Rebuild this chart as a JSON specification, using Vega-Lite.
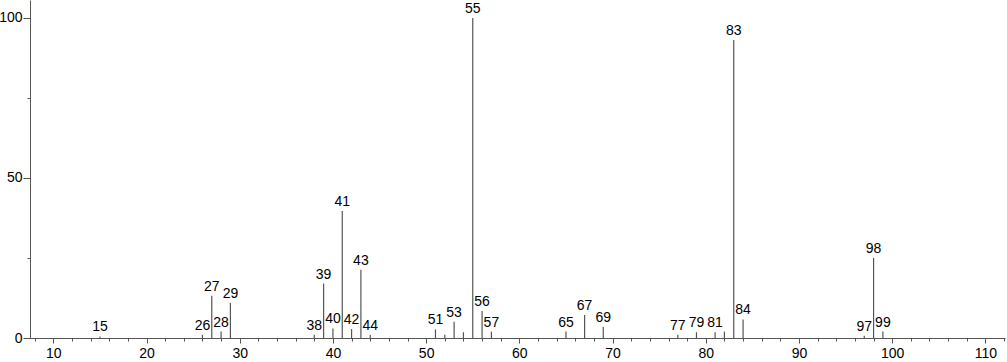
{
  "$schema": "https://vega.github.io/schema/vega-lite/v6.json",
  "width": 975,
  "height": 338,
  "autosize": "none",
  "padding": {"left": 30, "top": 0, "right": 2, "bottom": 24},
  "config": {"view": {"stroke": null}, "font": "Liberation Sans"},
  "data": {
    "values": [
      {"mz": 15, "i": 0.5, "lab": true},
      {"mz": 26, "i": 1.0, "lab": true},
      {"mz": 27, "i": 13.2, "lab": true},
      {"mz": 28, "i": 2.0, "lab": true},
      {"mz": 29, "i": 11.0, "lab": true},
      {"mz": 38, "i": 1.0, "lab": true},
      {"mz": 39, "i": 17.0, "lab": true},
      {"mz": 40, "i": 3.0, "lab": true},
      {"mz": 41, "i": 39.7, "lab": true},
      {"mz": 42, "i": 2.8, "lab": true},
      {"mz": 43, "i": 21.3, "lab": true},
      {"mz": 44, "i": 1.0, "lab": true},
      {"mz": 51, "i": 2.7, "lab": true},
      {"mz": 52, "i": 1.0, "lab": false},
      {"mz": 53, "i": 5.1, "lab": true},
      {"mz": 54, "i": 1.8, "lab": false},
      {"mz": 55, "i": 100, "lab": true},
      {"mz": 56, "i": 8.4, "lab": true},
      {"mz": 57, "i": 2.0, "lab": true},
      {"mz": 65, "i": 2.0, "lab": true},
      {"mz": 67, "i": 7.2, "lab": true},
      {"mz": 69, "i": 3.5, "lab": true},
      {"mz": 77, "i": 1.0, "lab": true},
      {"mz": 79, "i": 1.8, "lab": true},
      {"mz": 81, "i": 1.8, "lab": true},
      {"mz": 82, "i": 2.0, "lab": false},
      {"mz": 83, "i": 93.1, "lab": true},
      {"mz": 84, "i": 5.8, "lab": true},
      {"mz": 97, "i": 0.7, "lab": true},
      {"mz": 98, "i": 25.0, "lab": true},
      {"mz": 99, "i": 2.0, "lab": true}
    ]
  },
  "layer": [
    {
      "mark": {"type": "rule", "color": "#555555", "strokeWidth": 1.2},
      "encoding": {
        "x": {
          "field": "mz", "type": "quantitative",
          "scale": {"domain": [7.5, 112.1], "nice": false, "zero": false},
          "axis": {
            "values": [10, 20, 30, 40, 50, 60, 70, 80, 90, 100, 110],
            "title": null, "grid": false, "tickSize": 5, "labelPadding": 3,
            "labelFontSize": 14, "labelColor": "#000000",
            "domainColor": "#555555", "tickColor": "#555555", "labelFlush": false
          }
        },
        "y": {
          "field": "i", "type": "quantitative",
          "scale": {"domain": [0, 105.6], "nice": false},
          "axis": {
            "values": [0, 50, 100],
            "title": null, "grid": false, "tickSize": 7, "labelPadding": 1,
            "labelFontSize": 14, "labelColor": "#000000",
            "domainColor": "#555555", "tickColor": "#555555", "labelFlush": false
          }
        },
        "y2": {"datum": 0}
      }
    },
    {
      "transform": [{"filter": "datum.lab"}],
      "mark": {"type": "text", "baseline": "bottom", "dy": -2, "fontSize": 14, "color": "#000000"},
      "encoding": {
        "x": {"field": "mz", "type": "quantitative", "axis": null},
        "y": {"field": "i", "type": "quantitative", "axis": null},
        "text": {"field": "mz", "type": "quantitative"}
      }
    },
    {
      "mark": {"type": "rule", "opacity": 0},
      "encoding": {
        "x": {
          "field": "mz", "type": "quantitative",
          "axis": {
            "orient": "bottom",
            "values": [8, 12, 14, 16, 18, 22, 24, 26, 28, 32, 34, 36, 38, 42, 44, 46, 48, 52, 54, 56, 58, 62, 64, 66, 68, 72, 74, 76, 78, 82, 84, 86, 88, 92, 94, 96, 98, 102, 104, 106, 108, 112],
            "title": null, "grid": false, "labels": false, "domain": false,
            "tickSize": 3, "tickColor": "#555555"
          }
        },
        "y": {
          "field": "i", "type": "quantitative",
          "axis": {
            "orient": "left",
            "values": [25, 75],
            "title": null, "grid": false, "labels": false, "domain": false,
            "tickSize": 3, "tickColor": "#555555"
          }
        }
      }
    }
  ],
  "resolve": {"axis": {"x": "independent", "y": "independent"}}
}
